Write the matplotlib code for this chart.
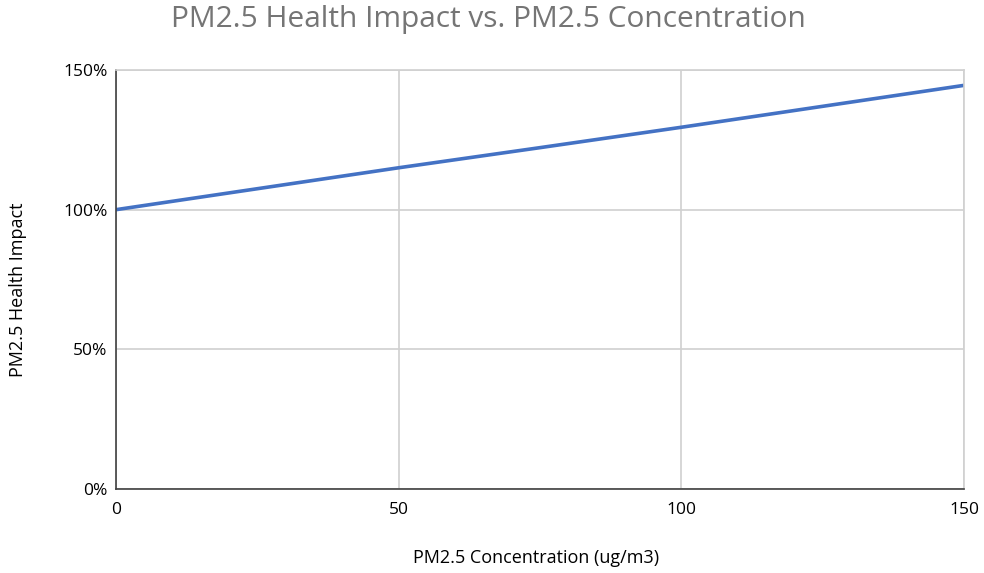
import matplotlib.pyplot as plt
from matplotlib.ticker import FuncFormatter

concentration = [0, 25, 50, 75, 100, 125, 150]
health_impact = [1.000, 1.075, 1.150, 1.222, 1.295, 1.370, 1.445]

x_ticks = [0, 50, 100, 150]
y_ticks = [0.0, 0.5, 1.0, 1.5]


def main():
    plt.rcParams["font.family"] = ["Open Sans", "DejaVu Sans"]

    fig = plt.figure(figsize=(9.84, 5.73), dpi=100)
    ax = fig.add_axes([116 / 984, 1 - 489 / 573, 848 / 984, 419 / 573])

    ax.plot(concentration, health_impact, color="#4472C4", linewidth=2.6,
            solid_capstyle="butt")

    ax.set_xlim(0, 150)
    ax.set_ylim(0, 1.5)
    ax.set_xticks(x_ticks)
    ax.set_yticks(y_ticks)
    ax.yaxis.set_major_formatter(FuncFormatter(lambda v, p: f"{v:.0%}"))

    ax.grid(True, color="#d0d0d0", linewidth=1.2)
    ax.set_axisbelow(True)
    for side in ("top", "right"):
        ax.spines[side].set_color("#d0d0d0")
        ax.spines[side].set_linewidth(1.2)
    for side in ("left", "bottom"):
        ax.spines[side].set_color("#404040")
        ax.spines[side].set_linewidth(1.2)

    ax.tick_params(length=0, labelsize=12.5, colors="#000000", pad=6)
    ax.tick_params(axis="x", pad=9)

    fig.text(536 / 984, 1 - 558 / 573, "PM2.5 Concentration (ug/m3)",
             ha="center", va="center", fontsize=13)
    fig.text(18 / 984, 1 - 290 / 573, "PM2.5 Health Impact",
             ha="center", va="center", rotation=90, fontsize=13)
    fig.text(488 / 984, 1 - 19 / 573, "PM2.5 Health Impact vs. PM2.5 Concentration",
             ha="center", va="center", fontsize=21.5, color="#757575")

    fig.savefig("out.png", dpi=100)


if __name__ == "__main__":
    main()
